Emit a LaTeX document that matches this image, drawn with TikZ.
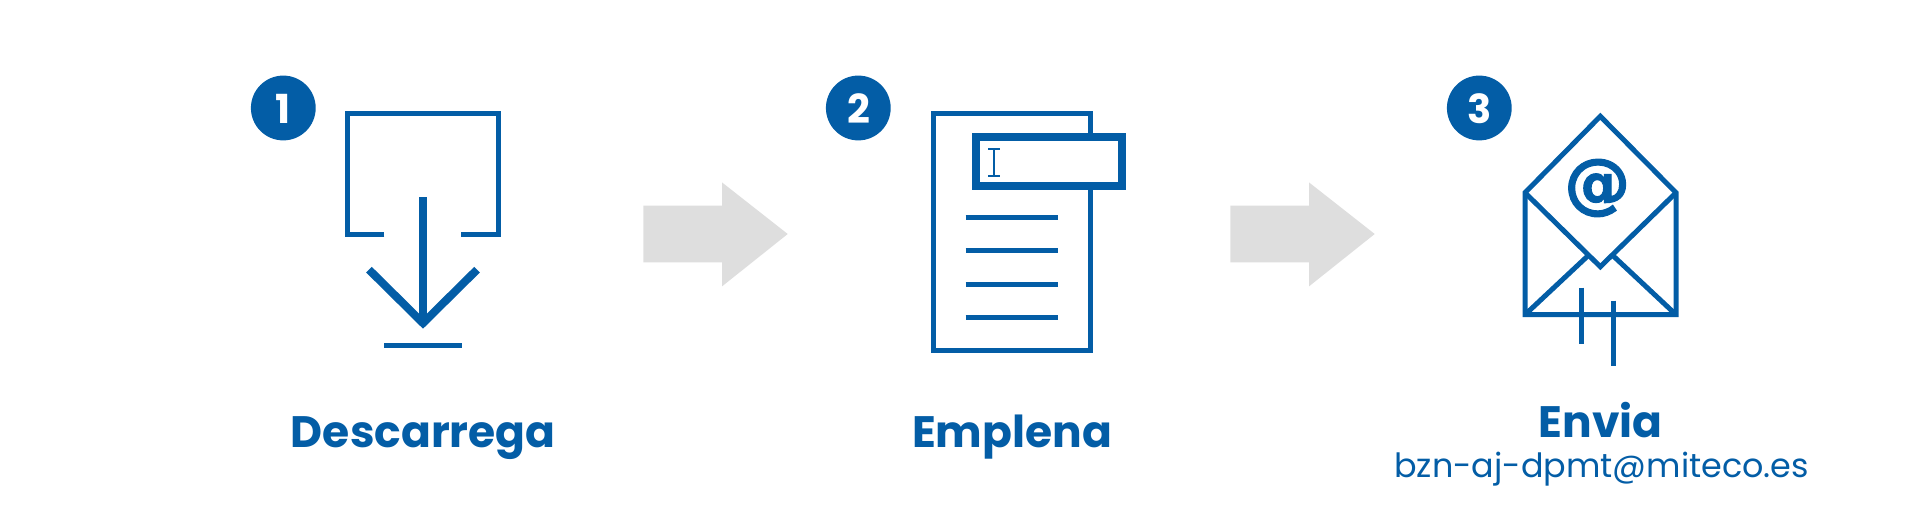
\documentclass[tikz,border=0pt]{standalone}
\usepackage{fontspec}
\setmainfont{Poppins}
\newfontfamily\symfont[FakeBold=1.6]{DejaVu Sans Bold}
\definecolor{mblue}{HTML}{035DA6}
\definecolor{mgrey}{HTML}{DEDEDE}
\tikzset{
  icon/.style={draw=mblue,line width=2.5pt,miter limit=10},
  thick icon/.style={draw=mblue,line width=4pt},
  badge/.style={circle,fill=mblue,minimum size=32.4pt,inner sep=0pt},
  digit/.style={anchor=base,inner sep=0pt,text=white,font=\bfseries\fontsize{20}{20}\selectfont},
  title/.style={anchor=base,inner sep=0pt,text=mblue,font=\bfseries\fontsize{22}{22}\selectfont},
  mail/.style={anchor=base,inner sep=0pt,text=mblue,font=\fontsize{16.7}{16.7}\selectfont},
  flow/.style={fill=mgrey,draw=none}
}
\begin{document}
\begin{tikzpicture}[x=0.5pt,y=-0.5pt]
\useasboundingbox (0,-0.7) rectangle (1921,511.3);
% step badges
\node[badge] (b1) at (283.3,107.3) {};
\node[badge] (b2) at (858.3,107.3) {};
\node[badge] (b3) at (1479.3,107.3) {};
\node[digit] (d1) at (283.3,122.7) {1};
\node[digit] (d2) at (858.8,122.7) {2};
\node[digit] (d3) at (1479.3,122.7) {3};
% download icon
\draw[icon] (384.3,233.5) -- (347.5,233.5) -- (347.5,112.5) -- (498.5,112.5) -- (498.5,233.5) -- (461.3,233.5);
\draw[thick icon] (423,196.7) -- (423,320);
\draw[thick icon] (369,269) -- (423,322.4) -- (477,269);
\draw[icon] (384,344.7) -- (462,344.7);
% form icon
\draw[icon] (933.2,112.5) rectangle (1090.2,350.2);
\draw[thick icon,fill=white] (976,136.7) rectangle (1122,185.7);
\draw[draw=mblue,line width=1pt] (988.3,148.2) -- (1000,148.2) (994,148.2) -- (994,175.2) (988.3,175.2) -- (1000,175.2);
\foreach \y in {217,250.3,283.7,317} \draw[icon] (965.7,\y) -- (1057.7,\y);
% envelope icon
\draw[icon] (1525,192) -- (1600.3,115.6) -- (1676,192) -- (1676,314) -- (1525,314) -- cycle;
\draw[icon] (1525,192) -- (1600.3,266) -- (1676,192);
\draw[icon] (1525,314) -- (1588,255);
\draw[icon] (1676,314) -- (1613,255);
\draw[icon] (1581.3,287) -- (1581.3,343);
\draw[icon] (1613.3,300) -- (1613.3,365.3);
\node[anchor=center,inner sep=0pt,text=mblue,font=\symfont\fontsize{33}{33}\selectfont] (at) at (1597.3,187.3) {@};
% flow arrows
\fill[flow] (643.3,205) -- (722,205) -- (722,181.7) -- (787.7,233.3) -- (722,285.7) -- (722,261.7) -- (643.3,261.7) -- cycle;
\fill[flow] (1230.3,205) -- (1309,205) -- (1309,181.7) -- (1374.7,233.3) -- (1309,285.7) -- (1309,261.7) -- (1230.3,261.7) -- cycle;
% labels
\node[title] (t1) at (423.3,446.7) {Descarrega};
\node[title] (t2) at (1012,446.7) {Emplena};
\node[title] (t3) at (1600.5,436.7) {Envia};
\node[mail] (m3) at (1601.7,477.3) {bzn-aj-dpmt@miteco.es};
\end{tikzpicture}
\end{document}
